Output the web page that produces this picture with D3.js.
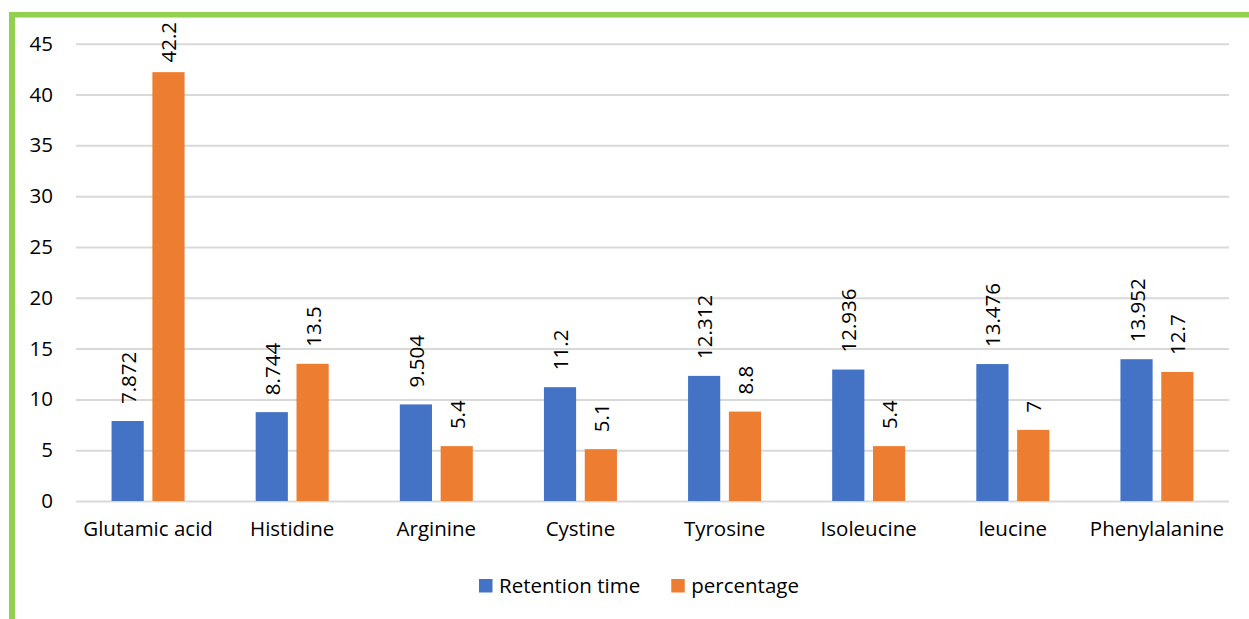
<!DOCTYPE html>
<html>
<head>
<meta charset="utf-8">
<script src="https://cdn.jsdelivr.net/npm/d3@7"></script>
<style>
  html, body { margin: 0; padding: 0; background: #fff; }
  svg { display: block; font-family: "Open Sans", Lato, sans-serif; }
</style>
</head>
<body>
<svg id="chart" width="1249" height="619"></svg>
<script>
// Amino acid composition: retention time and percentage
const categories = ["Glutamic acid", "Histidine", "Arginine", "Cystine", "Tyrosine", "Isoleucine", "leucine", "Phenylalanine"];
const retentionTime = [7.872, 8.744, 9.504, 11.2, 12.312, 12.936, 13.476, 13.952];
const percentage = [42.2, 13.5, 5.4, 5.1, 8.8, 5.4, 7, 12.7];
const seriesNames = ["Retention time", "percentage"];
const yTicks = [0, 5, 10, 15, 20, 25, 30, 35, 40, 45];

const colors = ["#4472c4", "#ed7d31"];
const FONT = "'Open Sans', Lato, sans-serif";
const FS = "20.5px";
const W = 1249, H = 619;
const plot = { left: 76, right: 1229, top: 43.7, bottom: 501 };
const labelGap = 17;   // space between a bar top and its value label
const labelCeil = 22;  // labels are pushed down so they never rise above this

const svg = d3.select("#chart");

// frame lines along the top and left edges
svg.append("rect").attr("x", 9).attr("y", 12).attr("width", W - 9).attr("height", 5.5).attr("fill", "#92d050");
svg.append("rect").attr("x", 9).attr("y", 12).attr("width", 6).attr("height", H - 12).attr("fill", "#92d050");

const x0 = d3.scaleBand().domain(categories).range([plot.left, plot.right]).padding(0);
const groupHalf = 36.5;
const x1 = d3.scaleBand().domain(seriesNames)
  .range([x0.bandwidth() / 2 - groupHalf, x0.bandwidth() / 2 + groupHalf])
  .paddingInner(0.212).paddingOuter(0);
const y = d3.scaleLinear().domain([0, 45]).range([plot.bottom, plot.top]);

// horizontal gridlines and value ticks
const yAxis = d3.axisLeft(y).tickValues(yTicks).tickSize(-(plot.right - plot.left)).tickPadding(23);
const gy = svg.append("g").attr("transform", `translate(${plot.left},0)`).call(yAxis);
gy.select(".domain").remove();
gy.selectAll(".tick line").attr("stroke", "#d9d9d9").attr("stroke-width", 2);
gy.selectAll(".tick text").attr("fill", "#000").style("font-size", FS).style("font-family", FONT);

// category labels
const xAxis = d3.axisBottom(x0).tickSize(0).tickPadding(20);
const gx = svg.append("g").attr("transform", `translate(0,${plot.bottom})`).call(xAxis);
gx.select(".domain").remove();
gx.selectAll(".tick text").attr("fill", "#000").style("font-size", FS).style("font-family", FONT);

const rows = categories.map((c, i) => ({ cat: c, vals: [retentionTime[i], percentage[i]] }));

const groups = svg.append("g").selectAll("g").data(rows).join("g")
  .attr("transform", d => `translate(${x0(d.cat)},0)`);

const bars = groups.selectAll("g").data(d => d.vals.map((v, k) => ({ v, s: seriesNames[k], k }))).join("g");

bars.append("rect")
  .attr("x", d => x1(d.s))
  .attr("width", x1.bandwidth())
  .attr("y", d => y(d.v))
  .attr("height", d => y(0) - y(d.v))
  .attr("fill", d => colors[d.k]);

// rotated value labels above each bar
bars.append("text")
  .attr("text-anchor", "start")
  .attr("dominant-baseline", "central")
  .style("font-size", FS)
  .attr("fill", "#000")
  .text(d => d.v)
  .attr("transform", function (d) {
    const len = this.getComputedTextLength();
    const base = Math.max(y(d.v) - labelGap, labelCeil + len);
    return `translate(${x1(d.s) + x1.bandwidth() / 2},${base}) rotate(-90)`;
  });

// legend
const legend = svg.append("g").attr("transform", "translate(479,579)");
const items = legend.selectAll("g").data(seriesNames).join("g");
items.append("rect").attr("width", 13.5).attr("height", 13.5).attr("fill", (d, i) => colors[i]);
items.append("text").attr("x", 20).attr("y", 13.5).style("font-size", FS).attr("fill", "#000").text(d => d);
let off = 0;
items.each(function () {
  d3.select(this).attr("transform", `translate(${off},0)`);
  off += this.getBBox().width + 31;
});
</script>
</body>
</html>
